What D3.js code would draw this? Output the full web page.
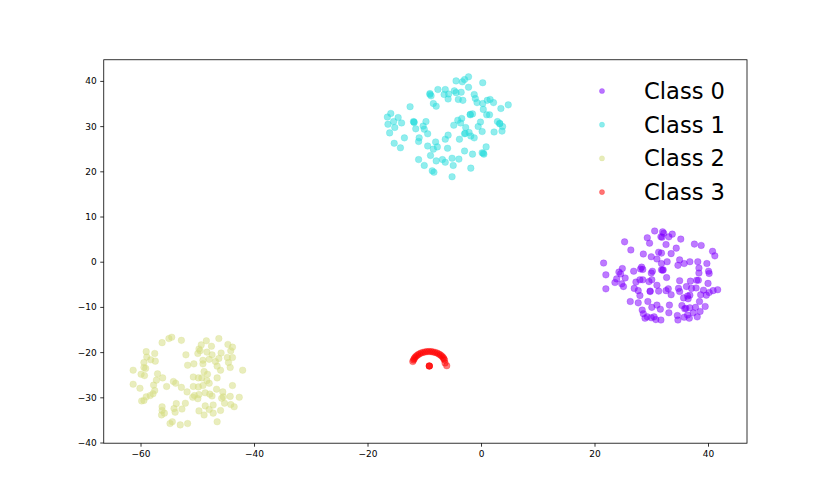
<!DOCTYPE html>
<html>
<head>
<meta charset="utf-8">
<script src="https://cdn.jsdelivr.net/npm/d3@7"></script>
<style>
  html, body { margin: 0; padding: 0; background: #fff; }
  svg { display: block; font-family: "DejaVu Sans", sans-serif; }
</style>
</head>
<body>
<svg id="chart" width="830" height="498"></svg>
<script>
// ---- data ----
const classNames = ["Class 0", "Class 1", "Class 2", "Class 3"];
const classColors = ["#8000ff", "#2bdddd", "#d4dd80", "#ff0000"];
const xTicks = [-60, -40, -20, 0, 20, 40];
const yTicks = [-40, -30, -20, -10, 0, 10, 20, 30, 40];
const xLimits = [-66.48, 46.87];
const yLimits = [-40.15, 44.68];

const class0 = [
  [30.6,6.8],[32.0,6.6],[32.2,6.3],[31.7,5.5],[33.1,5.5],[33.7,6.1],[35.2,5.0],[29.3,5.3],[25.3,4.4],[29.7,4.1],
  [32.6,3.8],[37.6,3.9],[38.8,3.6],[26.4,2.6],[28.6,1.7],[30.0,1.1],[31.3,2.1],[31.8,1.9],[33.5,1.8],[34.4,3.0],
  [40.8,2.3],[41.2,1.3],[21.6,-0.3],[31.0,0.6],[32.8,0.0],[31.8,-0.4],[35.0,0.4],[34.7,-0.8],[35.8,-0.4],[36.8,0.0],
  [38.2,0.0],[39.8,-0.4],[24.9,-1.5],[24.3,-2.3],[24.6,-2.7],[26.9,-2.1],[28.3,-1.2],[28.5,-1.7],[30.2,-2.1],[30.0,-2.5],
  [31.8,-1.8],[32.0,-1.9],[38.4,-1.4],[38.4,-2.5],[40.1,-2.1],[40.2,-2.6],[22.0,-2.9],[23.9,-3.8],[25.4,-3.6],[23.6,-4.6],
  [24.8,-4.9],[25.1,-5.5],[27.3,-4.5],[28.0,-4.0],[28.5,-4.0],[29.6,-4.4],[30.1,-4.0],[32.7,-3.5],[35.0,-4.2],[36.9,-4.3],
  [38.0,-4.1],[40.0,-4.8],[22.0,-6.0],[27.0,-5.9],[27.7,-6.4],[28.0,-7.5],[29.8,-6.5],[31.0,-5.2],[31.3,-6.5],[32.6,-6.4],
  [33.0,-6.0],[33.5,-7.3],[34.8,-5.9],[35.0,-6.6],[36.2,-5.5],[37.1,-5.9],[37.9,-5.8],[39.2,-6.3],[40.2,-6.8],[40.9,-6.4],
  [41.7,-6.2],[35.7,-8.0],[36.4,-7.6],[36.8,-7.4],[38.7,-7.3],[39.7,-7.4],[38.5,-8.8],[26.3,-8.8],[27.7,-9.1],[29.4,-8.8],
  [30.1,-10.1],[31.0,-9.6],[31.6,-10.5],[33.2,-9.6],[35.4,-9.7],[36.1,-10.3],[36.8,-10.2],[37.8,-10.1],[37.4,-11.3],[38.6,-11.0],
  [39.5,-9.9],[28.4,-10.7],[28.6,-11.5],[28.9,-12.5],[30.5,-12.2],[29.3,-12.2],[30.8,-12.8],[31.7,-12.9],[33.1,-11.3],[34.6,-11.9],
  [34.7,-12.9],[35.8,-12.3],[36.4,-11.8],[38.1,-12.2],[36.7,-12.5],
  [31.9,5.4],[29.8,-6.6],[36.5,-8.2],[38.3,-4.1],[28.1,-1.6],[32.1,-1.8],[35.9,-10.4],[30.0,-12.4]
];

const class1 = [
  [-4.4,40.0],[-3.3,39.8],[-2.9,40.3],[-2.2,40.9],[0.3,39.6],[-2.2,38.6],[-7.6,38.1],[-6.3,38.1],[-4.7,37.8],[-3.5,37.5],
  [-9.0,37.2],[-8.8,36.7],[-6.5,37.0],[-5.7,37.1],[-4.4,37.4],[-5.8,36.0],[-4.0,35.9],[-3.2,35.7],[-1.2,37.0],[-1.0,36.1],
  [-0.7,35.2],[0.3,35.0],[1.1,35.7],[1.6,35.9],[2.2,35.2],[4.8,34.7],[-8.4,35.0],[-7.9,34.4],[-12.5,34.3],[0.4,33.7],
  [3.5,33.9],[-15.9,32.8],[-16.5,32.0],[-14.6,31.9],[-15.4,31.0],[-14.0,30.7],[-16.4,30.4],[-11.9,31.0],[-11.8,30.8],[-9.7,31.0],
  [-15.2,29.7],[-16.1,28.5],[-11.5,29.4],[-10.2,30.0],[-10.0,29.3],[-9.4,28.3],[-1.9,32.6],[-1.5,32.7],[1.0,32.5],[1.5,32.5],
  [-4.1,31.3],[-3.4,31.7],[-3.6,30.7],[-4.8,30.2],[-2.7,29.7],[-0.1,30.9],[-0.5,29.9],[2.9,31.0],[3.3,30.5],[3.8,29.9],
  [3.7,28.9],[2.3,28.7],[0.2,28.8],[-2.1,28.6],[-2.9,28.3],[-1.8,27.8],[-5.8,28.0],[-6.3,27.1],[-3.8,27.1],[-1.2,27.4],
  [-13.5,27.4],[-10.9,27.4],[-11.0,26.6],[-15.3,26.2],[-14.2,25.2],[-9.4,25.6],[-8.0,26.5],[-7.7,25.4],[-8.4,24.9],[-5.9,25.1],
  [0.9,25.4],[-2.9,24.5],[0.2,24.1],[0.5,23.8],[-1.5,23.8],[-8.9,23.5],[-11.0,22.6],[-7.9,22.3],[-6.8,22.6],[-6.3,22.0],
  [-5.1,22.9],[-3.9,22.7],[-10.0,21.3],[-4.9,21.3],[-1.8,20.7],[-8.6,20.1],[-8.3,19.8],[-5.1,18.8],
  [-11.8,30.9],[-9.0,37.0],[-2.8,28.4],[0.4,24.0],[-1.9,32.5],[3.3,30.6]
];

const class2 = [
  [-54.5,-16.7],[-55.0,-17.0],[-52.8,-17.4],[-56.2,-17.9],[-48.4,-17.5],[-46.2,-17.0],[-49.3,-18.4],[-49.7,-19.3],[-49.5,-19.7],[-47.5,-18.7],
  [-45.8,-20.2],[-44.6,-18.3],[-43.8,-18.9],[-44.1,-19.7],[-59.0,-19.9],[-57.5,-20.3],[-58.9,-21.1],[-58.2,-21.7],[-57.4,-22.0],[-52.0,-20.6],
  [-49.9,-20.3],[-48.3,-20.0],[-47.4,-20.6],[-46.2,-21.4],[-44.7,-21.2],[-43.8,-21.2],[-49.0,-21.8],[-47.9,-21.6],[-46.8,-22.1],[-59.4,-22.3],
  [-59.4,-23.4],[-59.1,-23.6],[-61.3,-24.0],[-51.7,-22.9],[-50.6,-22.6],[-49.0,-22.6],[-46.5,-23.1],[-45.9,-24.0],[-44.5,-22.3],[-44.2,-23.4],
  [-42.0,-24.0],[-59.9,-24.9],[-59.3,-25.2],[-57.0,-24.8],[-56.1,-25.7],[-48.8,-24.3],[-48.2,-24.9],[-49.2,-25.7],[-46.5,-25.7],[-50.7,-25.5],
  [-49.8,-25.7],[-54.2,-26.5],[-53.8,-26.9],[-48.3,-26.3],[-47.9,-26.9],[-61.3,-27.1],[-57.7,-27.3],[-57.2,-26.2],[-55.4,-27.6],[-52.8,-27.8],
  [-50.7,-27.6],[-49.8,-27.7],[-49.0,-27.4],[-60.1,-28.0],[-57.5,-28.5],[-57.8,-29.2],[-58.3,-29.6],[-59.0,-29.9],[-59.4,-30.7],[-59.8,-30.8],
  [-51.8,-28.8],[-50.5,-29.6],[-49.7,-29.4],[-48.6,-29.0],[-47.8,-29.3],[-47.4,-29.7],[-46.6,-28.2],[-45.5,-28.8],[-45.4,-29.9],[-43.8,-27.4],
  [-50.8,-30.0],[-49.9,-30.3],[-45.7,-30.2],[-44.2,-29.8],[-42.6,-30.0],[-52.1,-31.3],[-53.7,-31.4],[-56.2,-32.1],[-56.2,-32.9],[-55.8,-33.5],
  [-56.3,-33.9],[-54.1,-32.5],[-53.9,-33.3],[-52.7,-32.6],[-48.6,-31.9],[-47.2,-31.7],[-45.2,-31.3],[-44.1,-31.6],[-43.5,-32.1],[-49.7,-33.0],
  [-47.9,-32.7],[-45.9,-32.9],[-47.2,-33.5],[-48.8,-33.9],[-46.5,-35.4],[-54.4,-35.4],[-54.8,-35.8],[-53.0,-36.1],[-51.7,-35.8]
];

const class3 = [
  [-12.02,-22.08],[-11.89,-21.75],[-11.77,-21.44],[-11.61,-21.14],[-11.40,-20.86],[-11.15,-20.62],[-10.87,-20.40],[-10.57,-20.20],
  [-10.24,-20.07],[-9.89,-19.96],[-9.53,-19.89],[-9.16,-19.87],[-8.79,-19.89],[-8.44,-19.96],[-8.09,-20.07],[-7.75,-20.20],
  [-7.45,-20.40],[-7.17,-20.62],[-6.93,-20.86],[-6.71,-21.14],[-6.56,-21.44],[-6.43,-21.75],[-6.34,-22.41],
  [-6.04,-23.01],[-9.11,-23.07],[-9.11,-23.07],[-9.11,-23.07]
];

const seriesList = [class0, class1, class2, class3];

// ---- layout ----
const svg = d3.select("#chart");
const plotLeft = 103.75, plotRight = 747, plotTop = 59.76, plotBottom = 443.2;

const x = d3.scaleLinear().domain(xLimits).range([plotLeft, plotRight]);
const y = d3.scaleLinear().domain(yLimits).range([plotBottom, plotTop]);

// points
const plot = svg.append("g");
seriesList.forEach((pts, i) => {
  plot.append("g").selectAll("circle").data(pts).enter().append("circle")
    .attr("cx", d => x(d[0]))
    .attr("cy", d => y(d[1]))
    .attr("r", 3.3)
    .attr("fill", classColors[i])
    .attr("fill-opacity", 0.52)
    .attr("stroke", classColors[i])
    .attr("stroke-opacity", 0.3)
    .attr("stroke-width", 0.8);
});

// axes
const fmt = d => d < 0 ? "\u2212" + Math.abs(d) : String(d);
const xAxis = d3.axisBottom(x).tickValues(xTicks).tickSize(3.5).tickPadding(3.5).tickFormat(fmt);
const yAxis = d3.axisLeft(y).tickValues(yTicks).tickSize(3.5).tickPadding(3.5).tickFormat(fmt);

const gx = svg.append("g").attr("transform", `translate(0,${plotBottom})`).call(xAxis);
const gy = svg.append("g").attr("transform", `translate(${plotLeft},0)`).call(yAxis);
[gx, gy].forEach(g => {
  g.select(".domain").remove();
  g.selectAll("line").attr("stroke", "#000").attr("stroke-width", 0.8);
  g.selectAll("text").attr("font-family", "DejaVu Sans").attr("font-size", 9).attr("fill", "#000");
});

// frame
svg.append("rect")
  .attr("x", plotLeft).attr("y", plotTop)
  .attr("width", plotRight - plotLeft).attr("height", plotBottom - plotTop)
  .attr("fill", "none").attr("stroke", "#000").attr("stroke-width", 0.8);

// legend
const legend = svg.append("g");
const legendX = 602, legendY0 = 91, legendStep = 33.7;
classNames.forEach((name, i) => {
  const ly = legendY0 + i * legendStep;
  legend.append("circle")
    .attr("cx", legendX).attr("cy", ly).attr("r", 2.6)
    .attr("fill", classColors[i]).attr("fill-opacity", 0.55)
    .attr("stroke", classColors[i]).attr("stroke-opacity", 0.35).attr("stroke-width", 0.6);
  legend.append("text")
    .attr("x", 644).attr("y", ly)
    .attr("dominant-baseline", "central")
    .attr("font-family", "DejaVu Sans").attr("font-size", 22.6)
    .attr("fill", "#000")
    .text(name);
});
</script>
</body>
</html>
